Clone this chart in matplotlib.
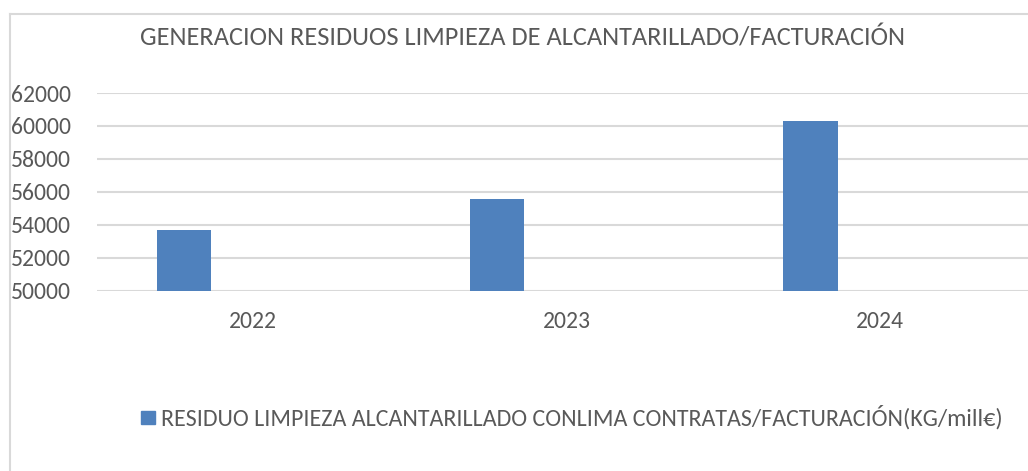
import matplotlib
matplotlib.use("Agg")
import matplotlib.pyplot as plt
import numpy as np
from matplotlib.patches import Rectangle
from matplotlib.lines import Line2D

plt.rcParams['font.family'] = ['Carlito', 'Open Sans', 'DejaVu Sans']

title = "GENERACION RESIDUOS LIMPIEZA DE ALCANTARILLADO/FACTURACIÓN"
categories = ["2022", "2023", "2024"]
series_name = "RESIDUO LIMPIEZA ALCANTARILLADO CONLIMA CONTRATAS/FACTURACIÓN(KG/mill€)"
values = [53700, 55550, 60330]
yticks = [50000, 52000, 54000, 56000, 58000, 60000, 62000]

W, H, DPI = 1028, 471, 100
fig = plt.figure(figsize=(W / DPI, H / DPI), dpi=DPI)
fig.patch.set_facecolor('white')

text_color = '#595959'
grid_color = '#d9d9d9'
bar_color = '#4f81bd'

# chart border (left and top)
fig.add_artist(Line2D([9.5 / W, 9.5 / W], [0, 1 - 13.5 / H], transform=fig.transFigure,
                      color=grid_color, lw=1.5))
fig.add_artist(Line2D([9.5 / W, 1], [1 - 13.5 / H, 1 - 13.5 / H], transform=fig.transFigure,
                      color=grid_color, lw=1.5))

left = 96.7 / W
bottom = 1 - 290.7 / H
top = 1 - 93.0 / H
ax = fig.add_axes([left, bottom, 1 - left, top - bottom])

x = np.arange(len(categories))
bar_w = 0.173
offset = -0.222
ax.bar(x + offset, values, width=bar_w, color=bar_color, zorder=3, label=series_name)

ax.set_ylim(yticks[0], yticks[-1])
ax.set_xlim(-0.5, 2.472)
ax.set_yticks(yticks)
ax.set_yticklabels([str(v) for v in yticks])
ax.set_xticks(x)
ax.set_xticklabels(categories)
ax.yaxis.grid(True, color=grid_color, lw=1.5, zorder=0)
ax.set_axisbelow(True)
for s in ax.spines.values():
    s.set_visible(False)
ax.tick_params(axis='both', length=0, colors=text_color, labelsize=17)
ax.tick_params(axis='y', pad=18.5)
ax.tick_params(axis='x', pad=14.5)

fig.text(523 / W, 1 - 38 / H, title, ha='center', va='center', fontsize=19, color=text_color)

# legend
fig.add_artist(Rectangle((141.3 / W, 1 - 424.3 / H), 13.7 / W, 13.3 / H,
                         transform=fig.transFigure, color=bar_color))
fig.text(161 / W, 1 - 417.5 / H, series_name, ha='left', va='center', fontsize=17.25,
         color=text_color)

fig.savefig("out.png", dpi=DPI, facecolor='white')
